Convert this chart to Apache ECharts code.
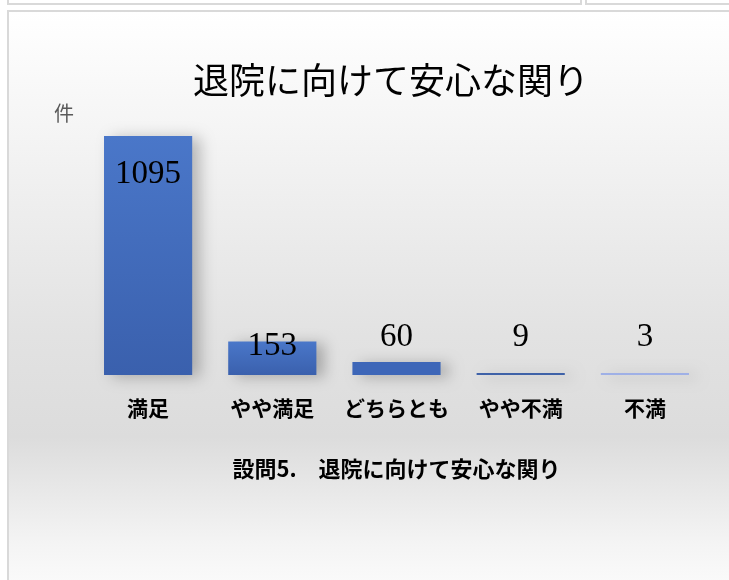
<!DOCTYPE html>
<html>
<head>
<meta charset="utf-8">
<script src="https://cdn.jsdelivr.net/npm/echarts@6/dist/echarts.min.js"></script>
<style>
  html, body { margin: 0; padding: 0; background: #fff; }
  body { width: 729px; height: 580px; position: relative; overflow: hidden; }
  /* 上の隣のセルの枠 */
  .top-cell { position: absolute; top: -10px; height: 11px; border: 2px solid #d9d9d9; background: #fff; }
  .frame {
    position: absolute; left: 7px; top: 10px; width: 740px; height: 590px;
    border: 2px solid #d9d9d9;
    background: linear-gradient(to bottom, #ffffff 0%, #f2f2f2 25%, #e2e2e2 55%, #dcdcdc 72%, #f4f4f4 90%, #fdfdfd 100%);
  }
  #chart { position: absolute; left: 0; top: 0; width: 729px; height: 580px; }
</style>
</head>
<body>
<div class="top-cell" style="left:7px;width:571px;"></div>
<div class="top-cell" style="left:585px;width:160px;"></div>
<div class="frame"></div>
<div id="chart"></div>
<script>
// カテゴリと件数
const categories = ['満足', 'やや満足', 'どちらとも', 'やや不満', '不満']
const counts = [1095, 153, 60, 9, 3]
const chartTitle = '退院に向けて安心な関り'
const axisName = '設問5.　退院に向けて安心な関り'
const unitName = '件'

// ラベルの位置（棒の左上からの相対位置）
const labelY = [38, 5, -25, -36, -36]
// 棒の色
const barColors = [
  new echarts.graphic.LinearGradient(0, 0, 0, 1, [
    { offset: 0, color: '#4a77c9' },
    { offset: 1, color: '#3a60ad' }
  ]),
  new echarts.graphic.LinearGradient(0, 0, 0, 1, [
    { offset: 0, color: '#4a77c9' },
    { offset: 1, color: '#3a60ad' }
  ]),
  '#3d66b8',
  '#3f62a8',
  '#9fb0e6'
]

let myChart = echarts.init(document.getElementById('chart'), null, { renderer: 'canvas' })

let seriesData = []
for (let i = 0; i < counts.length; i++) {
  seriesData.push({
    value: counts[i],
    itemStyle: { color: barColors[i] },
    label: { position: ['50%', labelY[i]] }
  })
}

let option = {
  backgroundColor: 'transparent',
  animation: false,
  graphic: [
    {
      type: 'text', left: 193, top: 62,
      style: { text: chartTitle, fontSize: 36, fontFamily: 'Noto Sans CJK JP', fill: '#000' }
    },
    {
      type: 'text', left: 54, top: 103,
      style: { text: unitName, fontSize: 20, fontFamily: 'Noto Sans CJK JP', fill: '#595959' }
    }
  ],
  grid: { left: 86, right: 22, top: 113, bottom: 205 },
  xAxis: {
    type: 'category',
    data: categories,
    name: axisName,
    nameLocation: 'middle',
    nameGap: 83,
    nameTextStyle: { fontSize: 22, fontWeight: 'bold', color: '#000', fontFamily: 'Noto Sans CJK JP' },
    axisLine: { show: false },
    axisTick: { show: false },
    axisLabel: { margin: 23, fontSize: 21, fontWeight: 'bold', color: '#000', fontFamily: 'Noto Sans CJK JP', interval: 0 }
  },
  yAxis: {
    type: 'value',
    min: 0,
    max: 1200,
    show: false,
    splitLine: { show: false }
  },
  series: [{
    type: 'bar',
    data: seriesData,
    barWidth: '71%',
    barMinHeight: 2,
    itemStyle: {
      shadowColor: 'rgba(0,0,0,0.25)',
      shadowBlur: 14,
      shadowOffsetX: 8,
      shadowOffsetY: 2
    },
    label: {
      show: true,
      align: 'center',
      verticalAlign: 'middle',
      fontSize: 33,
      color: '#000',
      fontFamily: 'Liberation Serif'
    }
  }]
}
myChart.setOption(option)
</script>
</body>
</html>
